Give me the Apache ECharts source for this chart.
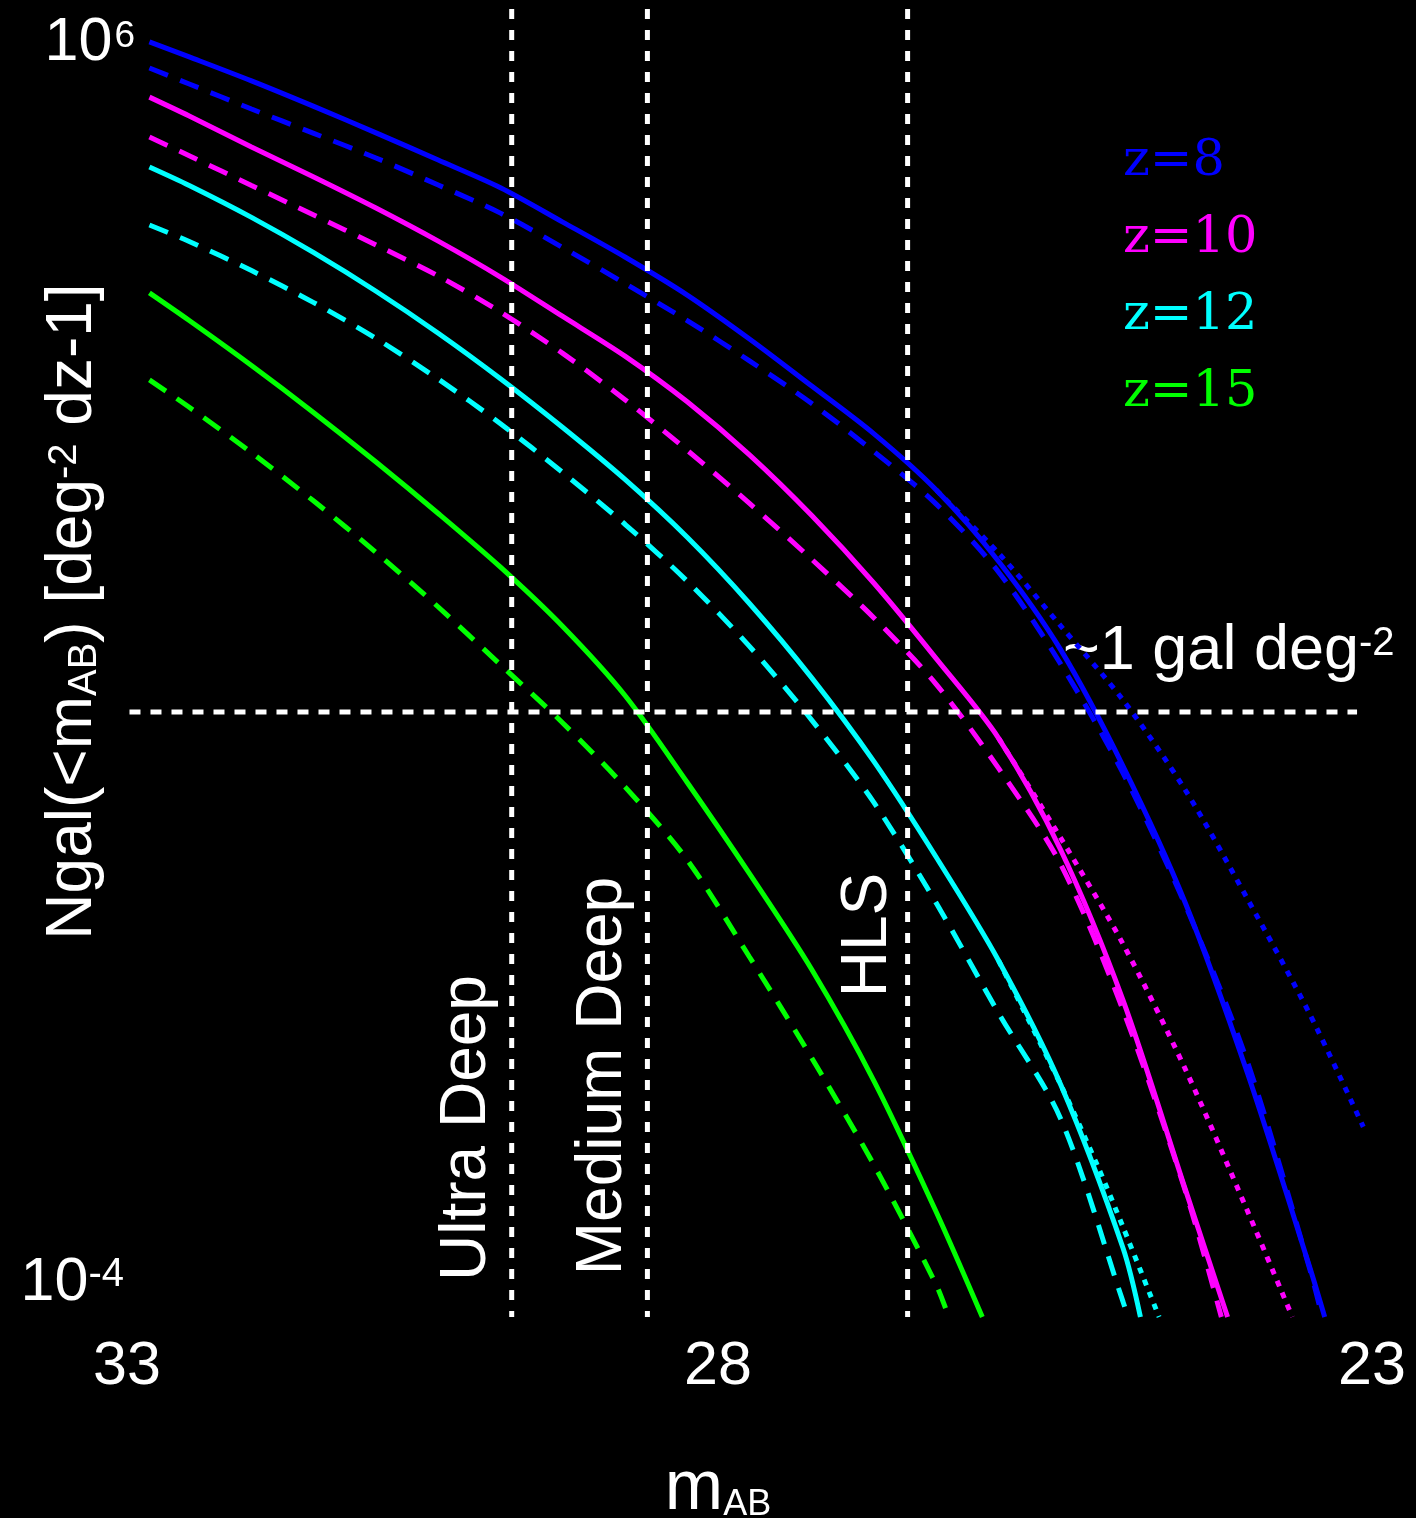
<!DOCTYPE html>
<html><head><meta charset="utf-8">
<script src="https://cdn.jsdelivr.net/npm/echarts@6/dist/echarts.min.js"></script>
<style>html,body{margin:0;padding:0;background:#000;}#c{width:1416px;height:1518px;}</style>
</head><body><div id="c"></div>
<script>
// ---- data: [m_AB, Ngal(<m_AB)] ----
const xTicks = [23, 28, 33];
const yRange = [1e-4, 1e6];

const z8Solid = [[32.82,5.6e5],[32.5,4.3e5],[32,2.82e5],[31.5,1.8e5],[31,1.13e5],[30.5,7.0e4],[30,4.3e4],[29.5,2.35e4],[29,1.27e4],[28.5,6.5e3],[28,3.0e3],[27.5,1.31e3],[27,564],[26.5,210],[26,60],[25.5,12.6],[25,1.63],[24.5,0.147],[24,7.3e-3],[23.5,2.4e-4],[23.38,1e-4]];
const z8Dashed = [[32.82,3.54e5],[32.5,2.67e5],[32,1.72e5],[31.5,1.12e5],[31,7.26e4],[30.5,4.51e4],[30,2.75e4],[29.5,1.5e4],[29,7.96e3],[28.5,4.15e3],[28,2.04e3],[27.5,964],[27,413],[26.5,164],[26,49.7],[25.5,9.8],[25,1.44],[24.5,0.141],[24,8.9e-3],[23.5,2.33e-4],[23.4,1e-4]];
const z8Dotted = [[26.5,210],[26,69.3],[25.5,19.2],[25,5.21],[24.5,1.07],[24,0.157],[23.5,2.07e-2],[23.07,2.84e-3]];

const z10Solid = [[32.82,2.12e5],[32.5,1.52e5],[32,8.81e4],[31.5,5.2e4],[31,3.01e4],[30.5,1.68e4],[30,8.93e3],[29.5,4.46e3],[29,2.22e3],[28.5,993],[28,390],[27.5,134],[27,40.7],[26.5,10.8],[26,2.67],[25.5,0.372],[25,2.65e-2],[24.5,9.5e-4],[24.16,1e-4]];
const z10Dashed = [[32.82,1.05e5],[32.5,7.55e4],[32,4.48e4],[31.5,2.66e4],[31,1.57e4],[30.5,9.1e3],[30,4.82e3],[29.5,2.33e3],[29,1.03e3],[28.5,423],[28,166],[27.5,62],[27,22.1],[26.5,6.87],[26,1.57],[25.5,0.288],[25,2.22e-2],[24.5,9.25e-4],[24.21,1e-4]];
const z10Dotted = [[26,2.67],[25.5,0.459],[25,7.11e-2],[24.5,7.87e-3],[24,6.46e-4],[23.64,1e-4]];

const z12Solid = [[32.82,6.19e4],[32.5,4.47e4],[32,2.55e4],[31.5,1.37e4],[31,6.95e3],[30.5,3.32e3],[30,1.49e3],[29.5,631],[29,253],[28.5,91.4],[28,28.5],[27.5,7.69],[27,1.76],[26.5,0.327],[26,5.32e-2],[25.5,5.96e-3],[25,3.37e-4],[24.86,1e-4]];
const z12Dashed = [[32.82,2.23e4],[32.5,1.67e4],[32,1.0e4],[31.5,5.69e3],[31,3.03e3],[30.5,1.48e3],[30,676],[29.5,286],[29,115],[28.5,42.2],[28,13.4],[27.5,3.66],[27,0.855],[26.5,0.146],[26,2.11e-2],[25.5,3.27e-3],[25,1.31e-4],[24.96,1e-4]];
const z12Dotted = [[26,5.32e-2],[25.5,5.96e-3],[25.2,1.4e-3],[25,4.88e-4],[24.71,1e-4]];

const z15Solid = [[32.82,6.75e3],[32.5,4.15e3],[32,1.88e3],[31.5,820],[31,344],[30.5,139],[30,54],[29.5,19.0],[29,5.64],[28.5,1.22],[28,0.245],[27.5,4.53e-2],[27,6.37e-3],[26.5,6.35e-4],[26.13,1e-4]];
const z15Dashed = [[32.82,1.46e3],[32.5,902],[32,406],[31.5,173],[31,70.1],[30.5,26.8],[30,9.68],[29.5,3.48],[29,1.13],[28.5,0.312],[28,5.65e-2],[27.5,9.55e-3],[27,1.45e-3],[26.5,1.76e-4],[26.4,1e-4]];

const depthMags = [29.91, 28.82, 26.73];
const depthNames = ['Ultra Deep', 'Medium Deep', 'HLS'];
const oneGalLevel = 4.22;
const oneGalSpan = [32.98, 23.12];
const legendNames = ['z=8', 'z=10', 'z=12', 'z=15'];

// ---- chart ----
const SANS = "'Liberation Sans', Arial, Helvetica, sans-serif";
const SERIF = "'DejaVu Serif', 'Liberation Serif', serif";
const COLORS = ['#0000ff', '#ff00ff', '#00ffff', '#00ff00'];
const W = '#ffffff';

function curve(data, color, kind) {
  return {
    type: 'line', data: data, symbol: 'none', smooth: 0.3, silent: true, animation: false,
    clip: true, z: 2,
    lineStyle: { color: color, width: 5, cap: 'butt',
      type: kind === 'solid' ? 'solid' : (kind === 'dash' ? [20, 13] : [6, 7]) }
  };
}
function refLine(data, dash) {
  return { type: 'line', data: data, symbol: 'none', silent: true, animation: false, z: 3,
    lineStyle: { color: W, width: 5, type: dash, cap: 'butt' } };
}

const series = [
  curve(z8Solid, COLORS[0], 'solid'), curve(z8Dashed, COLORS[0], 'dash'), curve(z8Dotted, COLORS[0], 'dot'),
  curve(z10Solid, COLORS[1], 'solid'), curve(z10Dashed, COLORS[1], 'dash'), curve(z10Dotted, COLORS[1], 'dot'),
  curve(z12Solid, COLORS[2], 'solid'), curve(z12Dashed, COLORS[2], 'dash'), curve(z12Dotted, COLORS[2], 'dot'),
  curve(z15Solid, COLORS[3], 'solid'), curve(z15Dashed, COLORS[3], 'dash')
];
depthMags.forEach(m => series.push(refLine([[m, yRange[1]], [m, yRange[0]]], [10, 11])));
series.push(refLine([[oneGalSpan[0], oneGalLevel], [oneGalSpan[1], oneGalLevel]], [11, 10]));

const chart = echarts.init(document.getElementById('c'), null, { renderer: 'canvas' });

const txt = (size, extra) => Object.assign({ fontSize: size, fontFamily: SANS, color: W, fill: W }, extra || {});

chart.setOption({
  backgroundColor: '#000000',
  animation: false,
  grid: { left: 127, right: 44, top: 9, bottom: 201, containLabel: false, outerBoundsMode: 'none' },
  xAxis: {
    type: 'value', inverse: true, min: xTicks[0], max: xTicks[2], interval: 5,
    axisLine: { show: false }, axisTick: { show: false }, splitLine: { show: false },
    axisLabel: {
      margin: 20, color: W, fontSize: 61, fontFamily: SANS,
      formatter: v => (v === xTicks[1] ? '{s|' + v + '}' : '{n|' + v + '}'),
      rich: { n: txt(61), s: txt(61, { padding: [0, 63, 0, 0] }) }
    },
    name: '{m|m}{s|AB}', nameLocation: 'middle', nameGap: 138, nameMoveOverlap: false,
    nameTextStyle: { padding: [0, 63, 0, 0], rich: { m: txt(70), s: txt(36, { padding: [30, 0, 0, 0] }) } }
  },
  yAxis: {
    type: 'log', logBase: 10, min: yRange[0], max: yRange[1],
    axisLine: { show: false }, axisTick: { show: false }, splitLine: { show: false },
    axisLabel: {
      margin: -8, align: 'right', color: W, fontSize: 61, fontFamily: SANS,
      formatter: v => (v > 1e5 ? '{tb|10}{ts|6}' : (v < 1e-3 ? '{bb|10}{bs|-4}' : '')),
      rich: {
        tb: txt(61, { padding: [69, 0, 0, 0] }),
        ts: txt(37, { padding: [56, 0, 0, 2] }),
        bb: txt(61, { padding: [0, 0, 68, 0] }),
        bs: txt(40, { padding: [0, 11, 84, 0] })
      }
    },
    name: '{a|Ngal(<m}{sub|AB}{a|) [deg}{sup|-2}{a| dz-1]}', nameLocation: 'middle', nameGap: 22, nameRotate: 90,
    nameMoveOverlap: false,
    nameTextStyle: { padding: [0, 0, 0, 103], rich: { a: txt(64), sub: txt(40, { padding: [24, 0, 0, 0] }), sup: txt(40, { padding: [0, 0, 16, 0] }) } }
  },
  series: series
});

// annotations
const legendY = [160, 237, 314, 391];
const labelY = [1128, 1076, 935];
const labelOffset = [-44, -44, -39];
const graphics = [];
legendNames.forEach((n, i) => graphics.push({
  type: 'text', x: 1123, y: legendY[i] + 2, silent: true,
  style: { text: n, fill: COLORS[i], font: '51px ' + SERIF, align: 'left', verticalAlign: 'middle', textAlign: 'left', textVerticalAlign: 'middle' }
}));
depthMags.forEach((m, i) => {
  const px = chart.convertToPixel({ gridIndex: 0 }, [m, 1])[0];
  graphics.push({
    type: 'text', x: px + labelOffset[i], y: labelY[i], rotation: Math.PI / 2, silent: true,
    style: { text: depthNames[i], fill: W, font: '64px ' + SANS, align: 'center', verticalAlign: 'middle', textAlign: 'center', textVerticalAlign: 'middle' }
  });
});
graphics.push({
  type: 'text', x: 1063, y: 652, silent: true,
  style: {
    text: '{a|~1 gal deg}{b|-2}', align: 'left', verticalAlign: 'middle', textAlign: 'left', textVerticalAlign: 'middle',
    rich: { a: { fontSize: 63, fontFamily: SANS, fill: W }, b: { fontSize: 40, fontFamily: SANS, fill: W, padding: [0, 0, 16, 0] } }
  }
});
chart.setOption({ graphic: { elements: graphics } });
</script></body></html>
